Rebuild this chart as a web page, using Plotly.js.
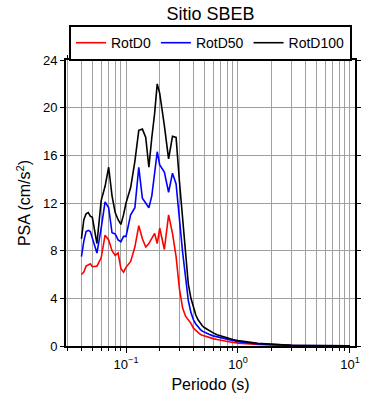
<!DOCTYPE html>
<html>
<head>
<meta charset="utf-8">
<script src="https://cdn.plot.ly/plotly-3.0.1.min.js"></script>
<style>html,body{margin:0;padding:0;background:#fff;}#chart{width:390px;height:400px;}</style>
</head>
<body>
<div id="chart"></div>
<script>
const periods = [0.04,0.042,0.044,0.046,0.048,0.05,0.055,0.06,0.065,0.07,0.075,0.08,0.085,0.09,0.095,
  0.1,0.11,0.12,0.13,0.14,0.15,0.16,0.17,0.18,0.19,0.2,0.22,0.24,0.26,0.28,0.3,0.32,0.34,0.36,0.38,
  0.4,0.42,0.44,0.46,0.48,0.5,0.55,0.6,0.65,0.7,0.75,0.8,0.85,0.9,0.95,1.0,1.5,2,3,4,5,7.5,10];

const rotD0 = [6.0,6.2,6.7,6.8,6.9,6.65,6.7,7.4,9.3,8.9,8.0,7.6,7.8,6.5,6.2,
  6.6,7.1,8.3,10.1,9.0,8.3,8.6,9.0,9.45,8.6,9.9,8.1,11.0,9.45,7.5,4.8,3.2,2.5,2.2,1.9,
  1.5,1.3,1.1,0.98,0.9,0.84,0.72,0.62,0.55,0.48,0.42,0.38,0.34,0.3,0.27,0.24,0.12,0.07,0.035,0.02,0.015,0.008,0.005];

const rotD50 = [7.5,8.8,9.6,9.7,9.6,9.0,7.8,9.9,12.1,11.6,9.5,9.4,8.9,8.75,9.2,
  9.2,11.0,11.6,15.0,12.4,12.0,11.6,12.6,14.5,16.3,15.2,14.6,12.9,14.5,13.6,10.5,7.9,5.8,3.8,2.8,
  2.2,1.85,1.6,1.4,1.25,1.15,0.98,0.85,0.77,0.7,0.62,0.55,0.5,0.45,0.41,0.37,0.18,0.1,0.05,0.03,0.025,0.012,0.008];

const rotD100 = [9.0,10.6,11.1,11.2,10.9,10.8,8.6,12.2,13.4,15.0,12.6,11.2,10.6,10.2,11.0,
  12.0,13.3,15.5,18.1,18.2,17.5,15.0,17.5,19.5,22.0,21.2,18.5,15.7,17.6,17.5,13.8,10.5,7.5,5.2,4.0,
  3.2,2.6,2.2,1.9,1.7,1.55,1.3,1.1,0.95,0.85,0.75,0.67,0.6,0.55,0.5,0.46,0.22,0.13,0.06,0.04,0.03,0.015,0.01];

const seriesNames = ["RotD0","RotD50","RotD100"];
const seriesColors = ["#ff0000","#0000ff","#000000"];
const seriesValues = [rotD0, rotD50, rotD100];

const xTickVals = [0.1, 1, 10];
const xTickText = ["10<sup>\u22121</sup>", "10<sup>0</sup>", "10<sup>1</sup>"];
const yTicks = [0,4,8,12,16,20,24];

const traces = seriesNames.map((n,i)=>({
  x: periods, y: seriesValues[i], name: n, type: 'scatter', mode: 'lines',
  line: {color: seriesColors[i], width: 1.6}
}));

const fontFam = 'Liberation Sans, Arial, Helvetica, sans-serif';
const layout = {
  width: 390, height: 400,
  margin: {l: 66, r: 35, t: 60, b: 54},
  paper_bgcolor: '#fff', plot_bgcolor: '#fff',
  font: {family: fontFam, color: '#000', size: 13},
  title: {text: 'Sitio SBEB', font: {size: 18, family: fontFam, color: '#000'}, x: 0.54, xanchor: 'center', y: 0.967, yanchor: 'middle'},
  showlegend: true,
  legend: {orientation: 'h', x: 0.5, xanchor: 'center', y: 1.122, yanchor: 'top',
    bordercolor: '#000', borderwidth: 2, bgcolor: '#fff', font: {size: 14, family: fontFam}},
  xaxis: {
    type: 'log', range: [-1.536, 1.045], tickvals: xTickVals, ticktext: xTickText,
    showline: true, linecolor: '#000', linewidth: 2, mirror: 'ticks',
    ticks: 'outside', ticklen: 5, tickcolor: '#000', tickwidth: 1,
    showgrid: true, gridcolor: '#a0a0a0', gridwidth: 1, zeroline: false,
    minor: {dtick: 'D1', showgrid: true, gridcolor: '#a0a0a0', gridwidth: 1, ticks: 'outside', ticklen: 3, tickcolor: '#000'},
    tickfont: {size: 13},
    title: {text: 'Periodo (s)', font: {size: 16}, standoff: 8}
  },
  yaxis: {
    range: [0, 24], tickvals: yTicks, ticktext: yTicks.map(String),
    showline: true, linecolor: '#000', linewidth: 2, mirror: 'ticks',
    ticks: 'outside', ticklen: 4, tickcolor: '#000', tickwidth: 1,
    showgrid: true, gridcolor: '#a0a0a0', gridwidth: 1, zeroline: false,
    tickfont: {size: 13},
    title: {text: 'PSA (cm/s<sup>2</sup>)', font: {size: 16}, standoff: 8}
  }
};

Plotly.newPlot('chart', traces, layout, {displayModeBar: false, staticPlot: true});
</script>
</body>
</html>
